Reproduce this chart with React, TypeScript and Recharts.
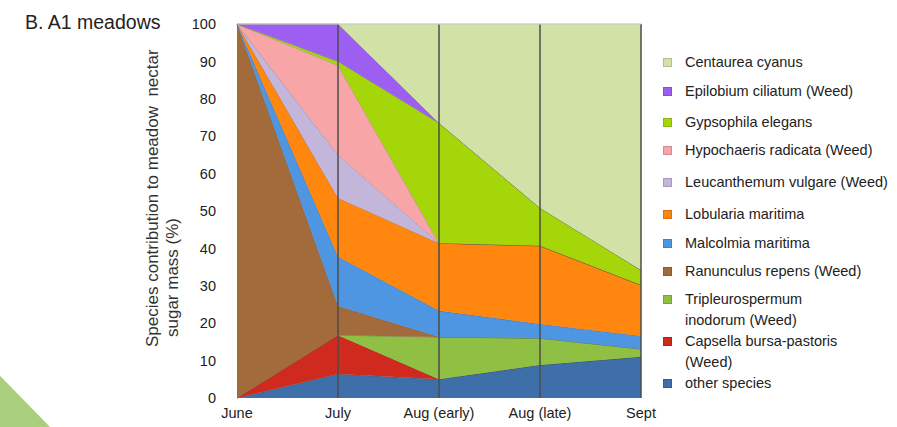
import React from "react";
import { AreaChart, Area, XAxis, YAxis, ReferenceLine } from "recharts";

const categories = ["June", "July", "Aug (early)", "Aug (late)", "Sept"];
const yTicks = [0, 10, 20, 30, 40, 50, 60, 70, 80, 90, 100];

const otherSpecies = [0, 6.4, 5, 8.8, 11];
const capsella = [0, 10.4, 0, 0, 0];
const tripleurospermum = [0, 0, 11.3, 7.2, 2.1];
const ranunculus = [100, 7.8, 0, 0, 0];
const malcolmia = [0, 13.2, 7, 3.8, 3.5];
const lobularia = [0, 15.7, 18.1, 20.9, 13.6];
const leucanthemum = [0, 11.5, 0, 0, 0];
const hypochaeris = [0, 24, 0, 0, 0];
const gypsophila = [0, 1, 32.1, 10.1, 4];
const epilobium = [0, 10, 0, 0, 0];
const centaurea = [0, 0, 26.5, 49.2, 65.8];

// bottom to top stacking order
const series = [
  { key: "other", name: ["other species"], values: otherSpecies, color: "#3e6fa9" },
  { key: "capsella", name: ["Capsella bursa-pastoris", "(Weed)"], values: capsella, color: "#d0291d" },
  { key: "triple", name: ["Tripleurospermum", "inodorum (Weed)"], values: tripleurospermum, color: "#8fc043" },
  { key: "ranunculus", name: ["Ranunculus repens (Weed)"], values: ranunculus, color: "#a36a3c" },
  { key: "malcolmia", name: ["Malcolmia maritima"], values: malcolmia, color: "#4e95e2" },
  { key: "lobularia", name: ["Lobularia maritima"], values: lobularia, color: "#ff860f" },
  { key: "leucanthemum", name: ["Leucanthemum vulgare (Weed)"], values: leucanthemum, color: "#c3b6da" },
  { key: "hypochaeris", name: ["Hypochaeris radicata (Weed)"], values: hypochaeris, color: "#f8a5a8" },
  { key: "gypsophila", name: ["Gypsophila elegans"], values: gypsophila, color: "#a5d60a" },
  { key: "epilobium", name: ["Epilobium ciliatum (Weed)"], values: epilobium, color: "#9d5ff2" },
  { key: "centaurea", name: ["Centaurea cyanus"], values: centaurea, color: "#d2e2a6" },
];

const data = categories.map((c, i) => {
  const row: Record<string, any> = { cat: c };
  series.forEach((s) => (row[s.key] = s.values[i]));
  return row;
});

const FONT = '"Liberation Sans", Arial, sans-serif';

// legend first-line centres (top to bottom)
const legendTops = [62, 91, 122, 150, 182, 214, 243, 271, 299, 341, 383];

const YLabel = () => (
  <g fontFamily={FONT} fontSize={17} fill="#333">
    <text x={152} y={347} transform="rotate(-90 152 347)" textAnchor="start" dominantBaseline="central">
      {"Species contribution to meadow\u00a0 nectar"}
    </text>
    <text x={172} y={337} transform="rotate(-90 172 337)" textAnchor="start" dominantBaseline="central">
      sugar mass (%)
    </text>
  </g>
);

export default function App() {
  const legendItems = [...series].reverse();
  return (
    <div style={{ position: "absolute", left: 0, top: 0, width: 897, height: 427, background: "#fff", fontFamily: FONT, overflow: "hidden" }}>
      <div
        style={{
          position: "absolute",
          left: 0,
          top: 370,
          width: 50,
          height: 57,
          background: "#a9cf7c",
          clipPath: "polygon(0 10%, 100% 100%, 0 100%)",
        }}
      />
      <div style={{ position: "absolute", left: 25, top: 9, fontSize: 19.5, color: "#222", whiteSpace: "nowrap", lineHeight: "26px" }}>
        B. A1 meadows
      </div>
      <div style={{ position: "absolute", left: 0, top: 0 }}>
        <AreaChart width={897} height={427} data={data} margin={{ top: 24, right: 256, bottom: 0, left: 0 }}>
          <XAxis
            dataKey="cat"
            height={29}
            axisLine={false}
            tickLine={false}
            tickSize={0}
            tickMargin={10}
            interval={0}
            tick={{ fontSize: 14.5, fill: "#222", fontFamily: FONT }}
          />
          <YAxis
            width={237}
            domain={[0, 100]}
            ticks={yTicks}
            axisLine={false}
            tickLine={false}
            tickSize={0}
            tickMargin={21}
            interval={0}
            tick={{ fontSize: 14.5, fill: "#222", fontFamily: FONT }}
            label={{ content: () => <YLabel /> }}
          />
          {series.map((s) => (
            <Area
              key={s.key}
              type="linear"
              dataKey={s.key}
              stackId="1"
              fill={s.color}
              fillOpacity={1}
              stroke="rgba(70,70,70,0.45)"
              strokeWidth={1}
              isAnimationActive={false}
            />
          ))}
          {categories.slice(1).map((c) => (
            <ReferenceLine key={c} x={c} stroke="#4d4d4d" strokeWidth={1.5} ifOverflow="visible" />
          ))}
          <ReferenceLine y={100} stroke="#e6ebd6" strokeWidth={1} />
        </AreaChart>
      </div>
      {legendItems.map((s, i) => (
        <div
          key={s.key}
          style={{ position: "absolute", left: 663, top: legendTops[i] - 10.5, fontSize: 14.5, color: "#222", lineHeight: "21px", whiteSpace: "nowrap" }}
        >
          <div
            style={{
              position: "absolute",
              left: 0,
              top: 6,
              width: 9,
              height: 9,
              background: s.color,
              boxShadow: "inset 0 0 0 1px rgba(0,0,0,0.15)",
            }}
          />
          <div style={{ marginLeft: 22 }}>
            {s.name.map((n, j) => (
              <div key={j}>{n}</div>
            ))}
          </div>
        </div>
      ))}
    </div>
  );
}
